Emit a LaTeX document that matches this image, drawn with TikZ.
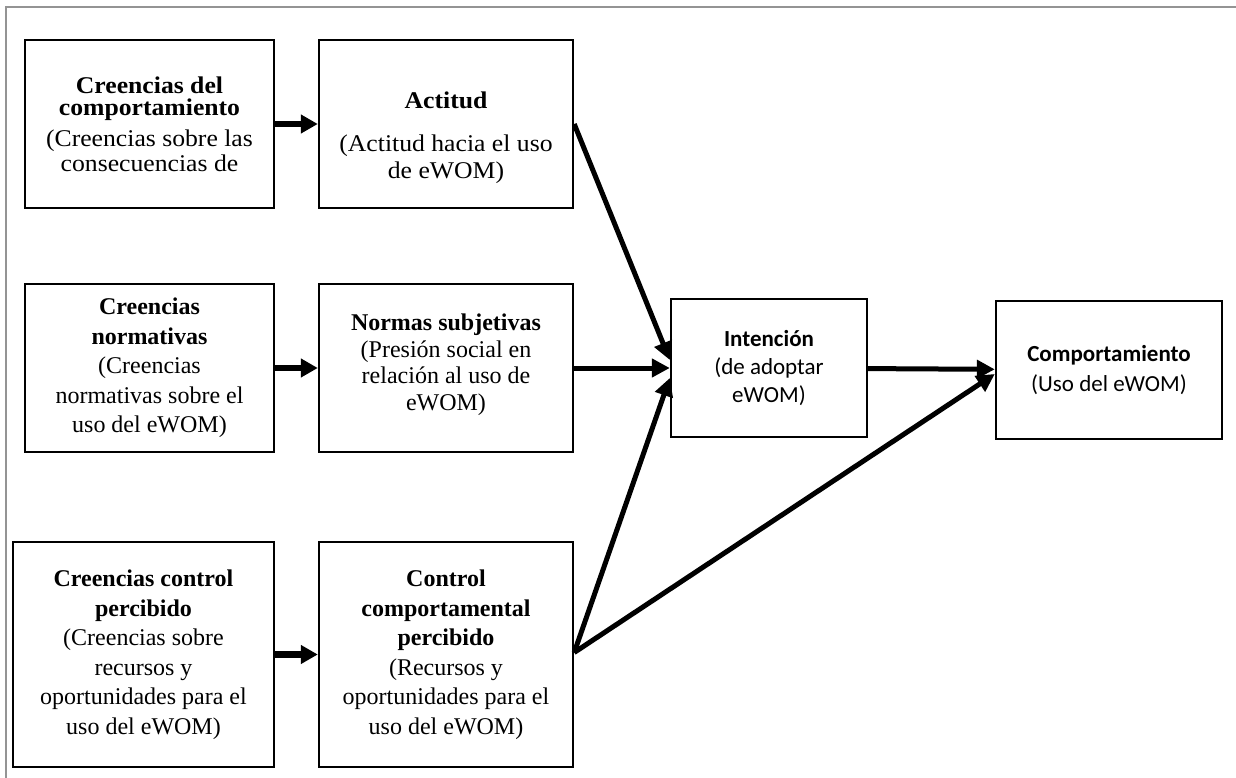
\documentclass[tikz,border=0pt]{standalone}
\usepackage{fontspec}
\setmainfont{Liberation Serif}
\newfontfamily\cambriafont[FakeStretch=1.07]{Liberation Serif}
\newfontfamily\calibrifont{Carlito}
\usetikzlibrary{arrows.meta}

\begin{document}
\begin{tikzpicture}[x=1pt,y=-1pt,
  box/.style={draw=black, line width=2.4pt, rectangle, inner sep=0pt, align=center},
  toprow/.style={box, minimum width=250pt, minimum height=168pt,
    font=\cambriafont\fontsize{24}{24}\selectfont},
  timesbox/.style={box, font=\fontsize{24}{29.5}\selectfont},
  sansbox/.style={box, font=\calibrifont\fontsize{23}{28}\selectfont},
  shortarrow/.style={line width=6.5pt, -{Triangle[length=17pt,width=18pt]}},
  longarrow/.style={line width=5pt, -{Triangle[length=18pt,width=18pt]}},
  frameline/.style={draw=black!42, line width=2pt}]

\useasboundingbox (0,0) rectangle (1236,778);
\draw[frameline] (6,778) -- (6,7) -- (1236,7);

% belief boxes (left column)
\node[toprow, minimum width=249pt] (b1) at (149.5,124)
  {\textbf{Creencias del}\\[-2pt]\textbf{comportamiento}\\[7pt](Creencias sobre las\\[1pt]consecuencias de};
\node[timesbox, minimum width=249pt, minimum height=168pt] (b3) at (149.5,368)
  {\textbf{Creencias}\\\textbf{normativas}\\(Creencias\\normativas sobre el\\uso del eWOM)};
\node[timesbox, minimum width=261pt, minimum height=225pt] (b5) at (143.5,654.5)
  {\textbf{Creencias control}\\\textbf{percibido}\\(Creencias sobre\\recursos y\\oportunidades para el\\uso del eWOM)};

% determinant boxes (second column)
\node[toprow, minimum width=254pt] (b2) at (446,124)
  {\mbox{}\\[21pt]\textbf{Actitud}\\[19pt](Actitud hacia el uso\\[3pt]de eWOM)};
\node[timesbox, minimum width=254pt, minimum height=168pt,
  font=\fontsize{24}{26.5}\selectfont] (b4) at (446,368)
  {\textbf{Normas subjetivas}\\(Presión social en\\relación al uso de\\eWOM)\\[-15pt]\mbox{}};
\node[timesbox, minimum width=254pt, minimum height=225pt] (b6) at (446,654.5)
  {\textbf{Control}\\\textbf{comportamental}\\\textbf{percibido}\\(Recursos y\\oportunidades para el\\uso del eWOM)};

% intention and behaviour
\node[sansbox, minimum width=196pt, minimum height=138pt] (int) at (769,368)
  {\textbf{Intención}\\(de adoptar\\eWOM)};
\node[sansbox, minimum width=226pt, minimum height=138pt,
  font=\calibrifont\fontsize{23}{30}\selectfont] (comp) at (1109,370)
  {\textbf{Comportamiento}\\(Uso del eWOM)};

% connectors
\draw[shortarrow] (b1) -- (b2);
\draw[shortarrow] (b3) -- (b4);
\draw[shortarrow] (b5) -- (b6);
\coordinate (ctl) at ([yshift=2pt]b6.east);
\draw[longarrow] (b2.east) -- ([yshift=8pt]int.west);
\draw[longarrow] (b4) -- (int);
\draw[longarrow] (ctl) -- ([yshift=-10pt]int.west);
\draw[longarrow] (ctl) -- ([yshift=-4pt]comp.west);
\draw[longarrow] (int) -- (comp);
\end{tikzpicture}
\end{document}
